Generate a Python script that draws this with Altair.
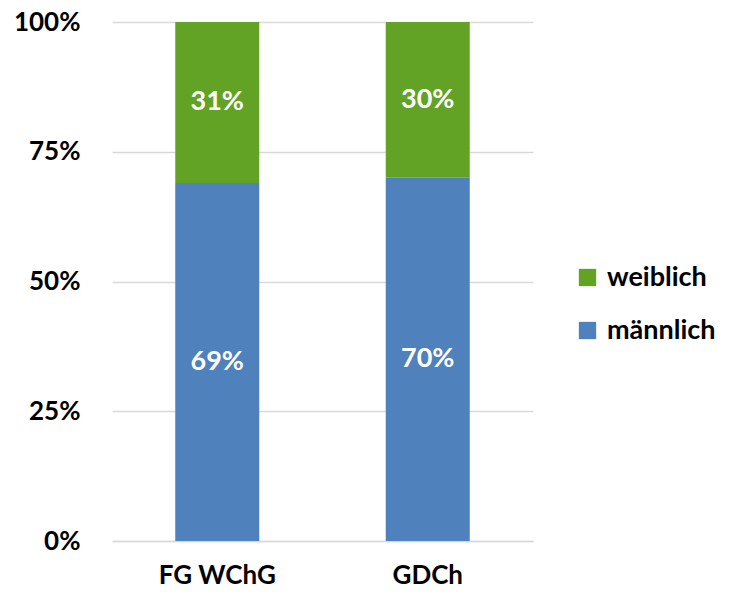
import altair as alt
import pandas as pd

categories = ["FG WChG", "GDCh"]
maennlich = [0.69, 0.70]
weiblich = [0.31, 0.30]
series = ["weiblich", "männlich"]
colors = ["#62A325", "#4F81BD"]

rows = []
for i, c in enumerate(categories):
    rows.append({"cat": c, "gender": "männlich", "value": maennlich[i], "ord": 0})
    rows.append({"cat": c, "gender": "weiblich", "value": weiblich[i], "ord": 1})
df = pd.DataFrame(rows)

FONT = "Lato"

base = alt.Chart(df).transform_stack(
    stack="value", groupby=["cat"], as_=["y0", "y1"],
    sort=[alt.SortField("ord", order="ascending")]
).transform_calculate(mid="(datum.y0 + datum.y1) / 2")

x = alt.X("cat:N", sort=categories, title=None,
          scale=alt.Scale(paddingInner=0.6, paddingOuter=0.3),
          axis=alt.Axis(labelAngle=0, labelFontSize=26, labelFont=FONT,
                        labelFontWeight="bold", labelColor="#000000",
                        labelPadding=21, ticks=False, domainColor="#d9d9d9",
                        domainWidth=1.5))

bars = base.mark_bar(size=84).encode(
    x=x,
    y=alt.Y("y0:Q", title=None, scale=alt.Scale(domain=[0, 1]),
            axis=alt.Axis(values=[0, 0.25, 0.5, 0.75, 1], format=".0%",
                          labelFontSize=26, labelFont=FONT, labelFontWeight="bold",
                          labelColor="#000000", labelPadding=32, ticks=False,
                          domain=False, gridColor="#d9d9d9", gridWidth=1.5)),
    y2="y1:Q",
    color=alt.Color("gender:N",
                    scale=alt.Scale(domain=series, range=colors),
                    legend=alt.Legend(title=None, orient="none", legendX=462, legendY=242,
                                      symbolType="square", symbolSize=300,
                                      symbolStrokeWidth=0,
                                      labelFontSize=27, labelFont=FONT,
                                      labelFontWeight="bold", labelColor="#000000",
                                      rowPadding=25, labelOffset=6)),
)

labels = base.mark_text(color="white", fontSize=27, font=FONT, fontWeight="bold").encode(
    x=alt.X("cat:N", sort=categories),
    y=alt.Y("mid:Q"),
    text=alt.Text("value:Q", format=".0%"),
)

chart = (bars + labels).properties(
    width=421, height=519,
    autosize=alt.AutoSizeParams(type="none"),
    padding={"left": 104, "top": 14, "right": 188, "bottom": 46},
).configure_view(stroke=None).configure_axis(grid=True).configure_axisX(grid=False)

chart.save("out.html", embed_options={"renderer": "svg", "actions": False})
